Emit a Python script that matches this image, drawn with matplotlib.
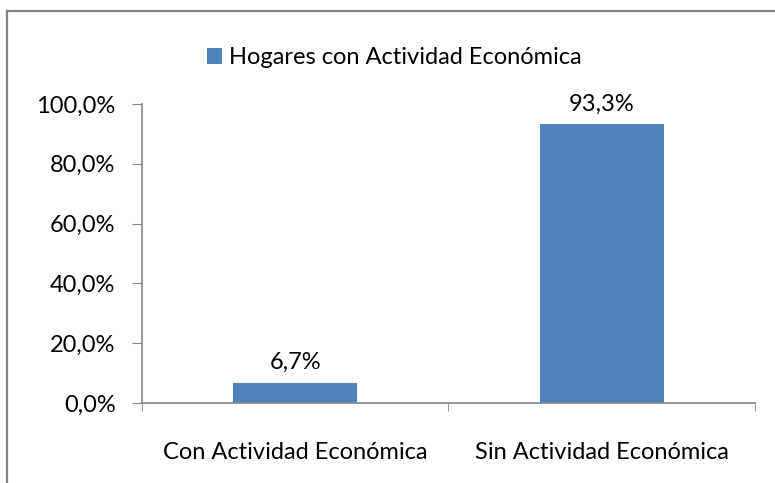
import matplotlib.pyplot as plt
from matplotlib.lines import Line2D
from matplotlib.ticker import FixedLocator

categories = ['Con Actividad Económica', 'Sin Actividad Económica']
values = [6.7, 93.3]
series_name = 'Hogares con Actividad Económica'
yticks = [0, 20, 40, 60, 80, 100]

plt.rcParams['font.family'] = ['Lato', 'DejaVu Sans']
fs = 17
bar_color = '#4F81BD'
gray = '#868686'

fig = plt.figure(figsize=(7.75, 4.83), dpi=100)
ax = fig.add_axes([0.1832, 0.1656, 0.974 - 0.1832, 0.619])

# outer chart frame: only the top and left edges are inside the picture
fx, fy = 6.5 / 775, 1 - 10.5 / 483
fig.add_artist(Line2D([fx, fx], [0, fy], transform=fig.transFigure, color=gray, lw=1.6))
fig.add_artist(Line2D([fx, 1], [fy, fy], transform=fig.transFigure, color=gray, lw=1.6))

bars = ax.bar(range(len(categories)), values, width=0.405, color=bar_color,
              label=series_name)
ax.bar_label(bars, labels=[f'{v:.1f}%'.replace('.', ',') for v in values],
             padding=7, fontsize=fs)

ax.set_xlim(-0.5, len(categories) - 0.5)
ax.set_ylim(0, 100)
ax.set_yticks(yticks)
ax.set_yticklabels([f'{t:.1f}%'.replace('.', ',') for t in yticks], fontsize=fs)
ax.set_xticks(range(len(categories)))
ax.set_xticklabels(categories, fontsize=fs)
ax.xaxis.set_minor_locator(FixedLocator([-0.5, 0.5, 1.5]))
ax.tick_params(axis='x', which='major', length=0, pad=28)
ax.tick_params(axis='x', which='minor', length=6, color=gray, direction='out')
ax.tick_params(axis='y', length=7, color=gray, direction='out', pad=12)

for s in ['top', 'right']:
    ax.spines[s].set_visible(False)
for s in ['left', 'bottom']:
    ax.spines[s].set_color(gray)
    ax.spines[s].set_linewidth(1.2)

ax.legend(loc='center left', bbox_to_anchor=(0.106, 1.155), frameon=False,
          fontsize=fs, handlelength=0.65, handleheight=0.65, handletextpad=0.3,
          borderpad=0, borderaxespad=0)

fig.savefig('out.png', dpi=100)
